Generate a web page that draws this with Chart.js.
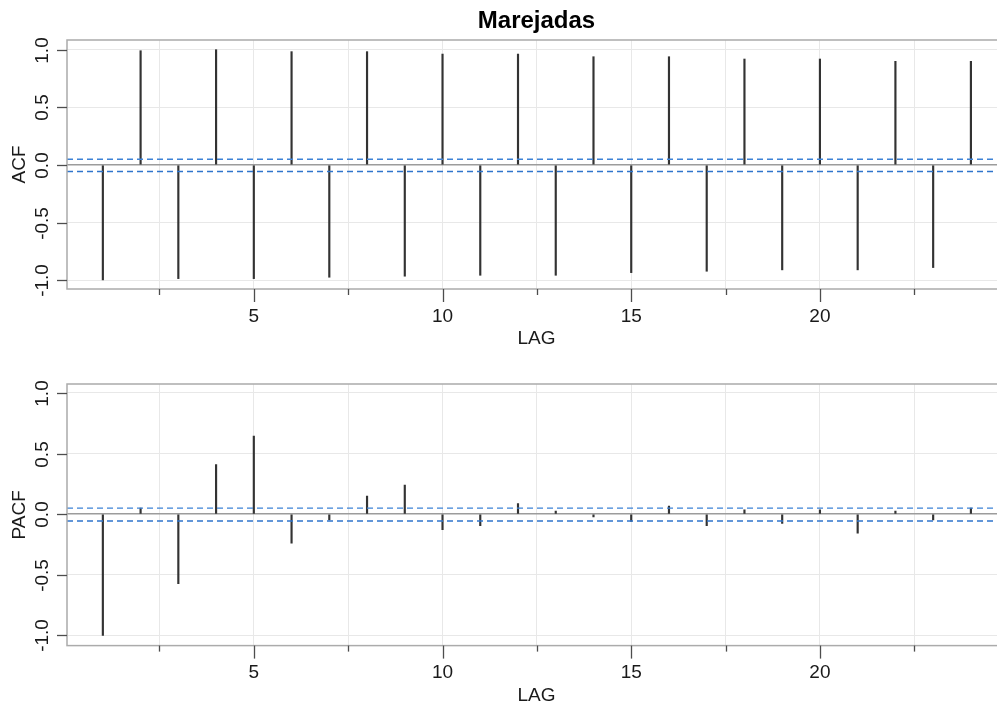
<!DOCTYPE html>
<html><head><meta charset="utf-8">
<script src="https://cdn.jsdelivr.net/npm/chart.js@4.4.1/dist/chart.umd.min.js"></script>
<style>
html,body{margin:0;padding:0;background:#fff;overflow:hidden;width:997px;height:707px;position:relative}
#w1{position:absolute;left:0;top:0;width:1006px;height:353px}
#w2{position:absolute;left:0;top:353px;width:1006px;height:354px}
</style></head><body>
<div id="w1"><canvas id="c1" width="1006" height="353"></canvas></div>
<div id="w2"><canvas id="c2" width="1006" height="354"></canvas></div>
<script>
const chartTitle = 'Marejadas';
const lags = [1,2,3,4,5,6,7,8,9,10,11,12,13,14,15,16,17,18,19,20,21,22,23,24];
const acfValues = [-0.997,0.991,-0.986,1.0,-0.986,0.983,-0.974,0.983,-0.965,0.962,-0.957,0.962,
                   -0.957,0.939,-0.934,0.939,-0.922,0.919,-0.910,0.919,-0.910,0.899,-0.890,0.899];
const pacfValues = [-1.0,0.05,-0.573,0.41,0.645,-0.24,-0.047,0.149,0.24,-0.129,-0.096,0.088,
                    0.025,-0.022,-0.06,0.066,-0.096,0.036,-0.077,0.036,-0.157,0.025,-0.047,0.05];
const xTickValues = [2.5,5,7.5,10,12.5,15,17.5,20,22.5];
const xTickLabels = ['','5','','10','','15','','20',''];
const yTickValues = [-1,-0.5,0,0.5,1];
const yTickLabels = ['-1.0','-0.5','0.0','0.5','1.0'];
const ciUpper = 0.05;
const ciLower = -0.057;
const xMin = 0.05, xMax = 24.93;

Chart.defaults.font.family = '"Liberation Sans", Arial, sans-serif';
Chart.defaults.color = '#1a1a1a';

const decor = {
  id: 'decor',
  afterDraw(chart) {
    const {ctx, chartArea: a, scales: {x, y}} = chart;
    ctx.save();
    ctx.strokeStyle = '#ababab';
    ctx.lineWidth = 1.5;
    ctx.strokeRect(a.left, a.top, a.right - a.left, a.bottom - a.top);
    ctx.strokeStyle = '#4d4d4d';
    ctx.lineWidth = 1.3;
    xTickValues.forEach((v, i) => {
      const px = Math.round(x.getPixelForValue(v)) + 0.5;
      const len = xTickLabels[i] ? 13 : 6;
      ctx.beginPath(); ctx.moveTo(px, a.bottom); ctx.lineTo(px, a.bottom + len); ctx.stroke();
    });
    ctx.font = '19px "Liberation Sans", Arial, sans-serif';
    ctx.fillStyle = '#1a1a1a';
    yTickValues.forEach((v, i) => {
      const py = Math.round(y.getPixelForValue(v)) + 0.5;
      ctx.beginPath(); ctx.moveTo(a.left - 10, py); ctx.lineTo(a.left, py); ctx.stroke();
      ctx.save();
      ctx.translate(43, py);
      ctx.rotate(-Math.PI / 2);
      ctx.textAlign = 'center';
      ctx.textBaseline = 'middle';
      ctx.fillText(yTickLabels[i], 0, 0);
      ctx.restore();
    });
    ctx.restore();
  }
};

function makeChart(canvasId, values, yLabel, yMin, yMax, padTop, padBottom, showTitle) {
  const pts = lags.map((l, i) => ({x: l, y: values[i]}));
  return new Chart(document.getElementById(canvasId), {
    type: 'bar',
    data: {
      datasets: [
        {type: 'bar', data: pts, backgroundColor: '#333333', borderWidth: 0, barThickness: 1.5, order: 2},
        {type: 'line', data: [{x: xMin, y: ciUpper}, {x: xMax, y: ciUpper}], borderColor: '#3d82d6',
         borderWidth: 1.4, borderDash: [6, 4], pointRadius: 0, order: 1},
        {type: 'line', data: [{x: xMin, y: ciLower}, {x: xMax, y: ciLower}], borderColor: '#2f74cc',
         borderWidth: 1.4, borderDash: [6, 4], pointRadius: 0, order: 1}
      ]
    },
    options: {
      responsive: false,
      animation: false,
      devicePixelRatio: 1,
      layout: {padding: {top: padTop, bottom: padBottom, left: 0, right: 0}},
      plugins: {
        legend: {display: false},
        tooltip: {enabled: false},
        title: {
          display: showTitle, text: chartTitle, fullSize: false, align: 'center', color: '#000',
          font: {size: 24, weight: 'bold'}, padding: {top: 7, bottom: 4.2}
        }
      },
      scales: {
        x: {
          type: 'linear', min: xMin, max: xMax, offset: false,
          afterBuildTicks: s => { s.ticks = xTickValues.map(v => ({value: v})); },
          afterFit: s => { s.height = 61.4; },
          grid: {color: '#e8e8e8', lineWidth: 1, drawTicks: false, offset: false},
          border: {display: false},
          ticks: {
            autoSkip: false, maxRotation: 0, padding: 16, font: {size: 19}, color: '#1a1a1a',
            callback: (v, i) => xTickLabels[i]
          },
          title: {display: true, text: 'LAG', font: {size: 19}, color: '#1a1a1a', padding: {top: 0, bottom: 0}}
        },
        y: {
          type: 'linear', min: yMin, max: yMax,
          afterBuildTicks: s => { s.ticks = yTickValues.map(v => ({value: v})); },
          afterFit: s => { s.width = 67; },
          grid: {
            color: c => (c.tick && c.tick.value === 0) ? '#9c9c9c' : '#e8e8e8',
            lineWidth: c => (c.tick && c.tick.value === 0) ? 1.6 : 1,
            drawTicks: false
          },
          border: {display: false},
          ticks: {display: false},
          title: {display: true, text: yLabel, font: {size: 19}, color: '#1a1a1a', padding: {top: 8, bottom: 0}}
        }
      }
    },
    plugins: [decor]
  });
}

makeChart('c1', acfValues, 'ACF', -1.076, 1.084, 0, 2.6, true);
makeChart('c2', pacfValues, 'PACF', -1.085, 1.074, 31, 0, false);
</script>
</body></html>
